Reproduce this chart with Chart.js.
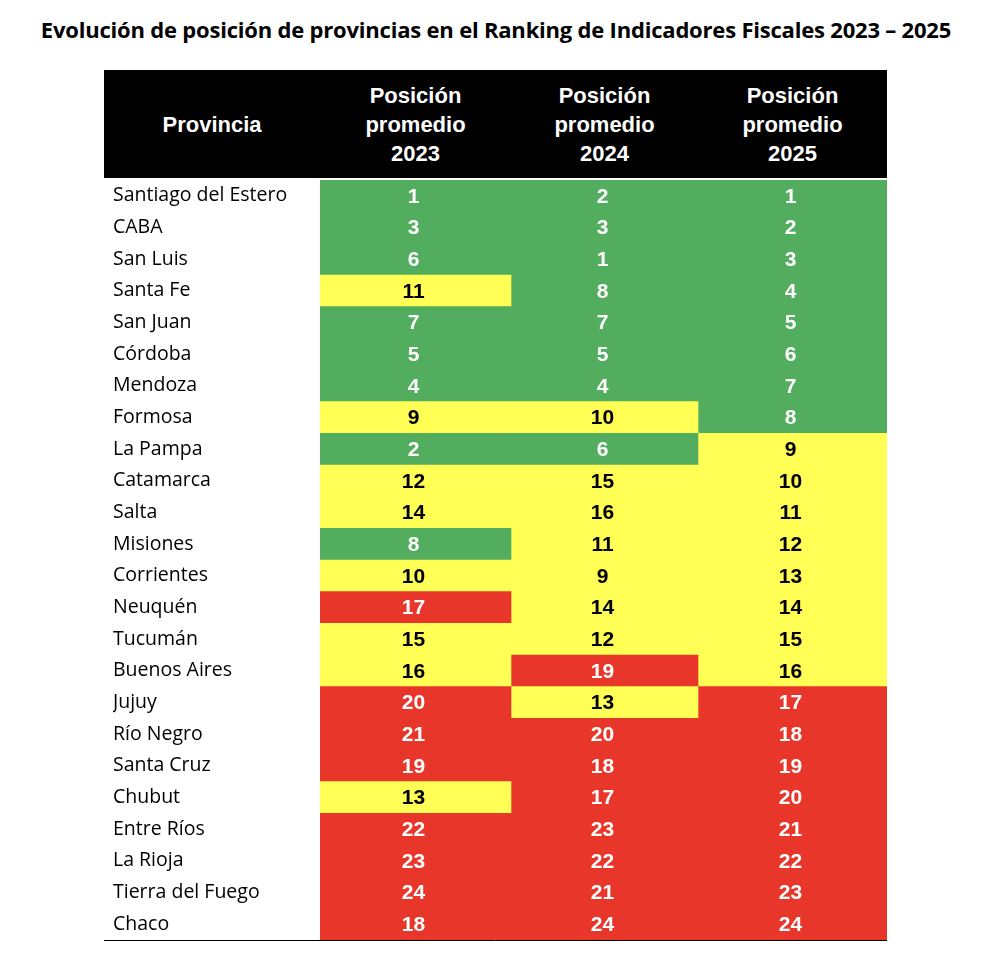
<!DOCTYPE html>
<html>
<head>
<meta charset="utf-8">
<script src="https://cdn.jsdelivr.net/npm/chart.js@4/dist/chart.umd.min.js"></script>
<style>
  body { margin: 0; background: #fff; width: 992px; height: 958px; position: relative; overflow: hidden; }
  #title { position: absolute; top: 14px; left: 0; width: 992px; text-align: center; white-space: nowrap;
           font: bold 22px "Open Sans", "Liberation Sans", sans-serif; color: #000; letter-spacing: -0.2px; }
  #head { position: absolute; top: 70px; left: 104px; width: 783px; height: 108px; background: #000;
          color: #fff; font: bold 22px "Liberation Sans", Arial, sans-serif; }
  #head div { position: absolute; top: 0; height: 108px; display: flex; align-items: center;
              justify-content: center; text-align: center; line-height: 29px; }
  canvas { position: absolute; top: 0; left: 0; }
</style>
</head>
<body>
<div id="title">Evolución de posición de provincias en el Ranking de Indicadores Fiscales 2023 – 2025</div>
<div id="head">
  <div style="left:0;width:216px;">Provincia</div>
  <div style="left:216px;width:191px;">Posición<br>promedio<br>2023</div>
  <div style="left:407px;width:187px;">Posición<br>promedio<br>2024</div>
  <div style="left:594px;width:189px;">Posición<br>promedio<br>2025</div>
</div>
<canvas id="c" width="992" height="958"></canvas>
<script>
const provincias = ['Santiago del Estero', 'CABA', 'San Luis', 'Santa Fe', 'San Juan', 'Córdoba', 'Mendoza',
  'Formosa', 'La Pampa', 'Catamarca', 'Salta', 'Misiones', 'Corrientes', 'Neuquén', 'Tucumán',
  'Buenos Aires', 'Jujuy', 'Río Negro', 'Santa Cruz', 'Chubut', 'Entre Ríos', 'La Rioja',
  'Tierra del Fuego', 'Chaco'];
const pos2023 = [1, 3, 6, 11, 7, 5, 4, 9, 2, 12, 14, 8, 10, 17, 15, 16, 20, 21, 19, 13, 22, 23, 24, 18];
const pos2024 = [2, 3, 1, 8, 7, 5, 4, 10, 6, 15, 16, 11, 9, 14, 12, 19, 13, 20, 18, 17, 23, 22, 21, 24];
const pos2025 = [1, 2, 3, 4, 5, 6, 7, 8, 9, 10, 11, 12, 13, 14, 15, 16, 17, 18, 19, 20, 21, 22, 23, 24];

function colorFor(v) {
  if (v <= 8) return '#52ad5e';
  if (v <= 16) return '#ffff55';
  return '#e8372a';
}
function textFor(v) { return (v > 8 && v <= 16) ? '#000' : '#fff'; }

const columns = [pos2023, pos2024, pos2025];
// column boundaries in x units (column widths differ slightly)
const bounds = [0, 191, 378, 567];

const datasets = columns.map((vals, c) => ({
  data: vals.map(() => [bounds[c], bounds[c + 1]]),
  values: vals,
  backgroundColor: vals.map(colorFor),
  borderWidth: 0,
  grouped: false,
  barPercentage: 1,
  categoryPercentage: 1
}));

const cellText = {
  id: 'cellText',
  afterDatasetsDraw(chart) {
    const ctx = chart.ctx;
    ctx.save();
    ctx.font = 'bold 21px "Liberation Sans", Arial, sans-serif';
    ctx.textAlign = 'center';
    ctx.textBaseline = 'middle';
    chart.data.datasets.forEach((ds, di) => {
      chart.getDatasetMeta(di).data.forEach((bar, i) => {
        const v = ds.values[i];
        ctx.fillStyle = textFor(v);
        ctx.fillText(String(v), (bar.x + bar.base) / 2 - 2, bar.y + 1);
      });
    });
    const a = chart.chartArea;
    ctx.strokeStyle = '#000';
    ctx.lineWidth = 1;
    ctx.beginPath();
    ctx.moveTo(104, a.bottom + 0.5);
    ctx.lineTo(a.right, a.bottom + 0.5);
    ctx.stroke();
    ctx.restore();
  }
};

new Chart(document.getElementById('c'), {
  type: 'bar',
  data: { labels: provincias, datasets },
  options: {
    indexAxis: 'y',
    responsive: false,
    animation: false,
    layout: { padding: { top: 180, bottom: 18, left: 113, right: 105 } },
    plugins: { legend: { display: false }, tooltip: { enabled: false } },
    scales: {
      x: { display: false, min: 0, max: 567 },
      y: {
        grid: { display: false },
        border: { display: false },
        afterFit(scale) { scale.width = 207; },
        ticks: {
          crossAlign: 'far',
          color: '#000',
          font: { size: 19.5, family: '"Open Sans", "Liberation Sans", sans-serif' }
        }
      }
    }
  },
  plugins: [cellText]
});
</script>
</body>
</html>
